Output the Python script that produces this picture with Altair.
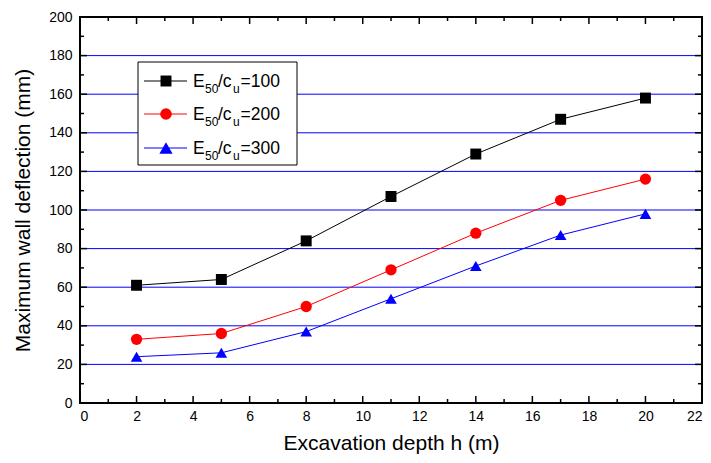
import altair as alt
import pandas as pd

# ---- data ----
depth = [2, 5, 8, 11, 14, 17, 20]
s100 = [61, 64, 84, 107, 129, 147, 158]
s200 = [33, 36, 50, 69, 88, 105, 116]
s300 = [24, 26, 37, 54, 71, 87, 98]
ratios = ["100", "200", "300"]
colors = ["#000000", "#ff0000", "#0000ff"]
shapes = ["square", "circle", "triangle-up"]
x_ticks = list(range(0, 23, 2))
x_minor = list(range(1, 22, 2))
y_ticks = list(range(0, 201, 20))
y_minor = list(range(10, 200, 20))
grid_vals = list(range(20, 181, 20))

# marker styling (not data)
MARKER_SIZES = [120, 135, 175]

W, H = 622, 386
FONT = "Liberation Sans"

rows = []
for r, vals in zip(ratios, [s100, s200, s300]):
    for d, v in zip(depth, vals):
        rows.append({"depth": d, "defl": v, "series": r})
df = pd.DataFrame(rows)

xs = alt.Scale(domain=[0, 22], nice=False, zero=False)
ys = alt.Scale(domain=[0, 200], nice=False, zero=False)
cs = alt.Scale(domain=ratios, range=colors)
ss = alt.Scale(domain=ratios, range=shapes)
zs = alt.Scale(domain=ratios, range=MARKER_SIZES)

x_axis = alt.Axis(values=x_ticks, ticks=False, domain=False, grid=False,
                  labelOverlap=False,
                  labelFontSize=14, labelFont=FONT, labelColor="black",
                  labelPadding=6, title="Excavation depth h (m)",
                  titleFont=FONT, titleFontSize=21, titleFontWeight="normal",
                  titleColor="black", titleX=W / 2, titleY=46,
                  titleBaseline="alphabetic", titleAlign="center")
y_axis = alt.Axis(values=y_ticks, ticks=False, domain=False, grid=False,
                  labelOverlap=False,
                  labelFontSize=14, labelFont=FONT, labelColor="black",
                  labelPadding=8, title="Maximum wall deflection (mm)",
                  titleFont=FONT, titleFontSize=21, titleFontWeight="normal",
                  titleColor="black", titleX=-51, titleY=H / 2,
                  titleAngle=270, titleBaseline="alphabetic", titleAlign="center")

def X(field):
    return alt.X(field, scale=xs, axis=x_axis)

def Y(field):
    return alt.Y(field, scale=ys, axis=y_axis)

# grid lines
grid = alt.Chart(pd.DataFrame({"g": grid_vals})).mark_rule(
    color="#0000ff", strokeWidth=1).encode(y=Y("g:Q"))

# inward ticks on all four sides
def xticks(vals, length):
    d = pd.DataFrame({"t": vals})
    bot = alt.Chart(d).mark_rule(color="black", strokeWidth=1.5).encode(
        x=X("t:Q"), y=alt.value(H), y2=alt.value(H - length))
    top = alt.Chart(d).mark_rule(color="black", strokeWidth=1.5).encode(
        x=X("t:Q"), y=alt.value(0), y2=alt.value(length))
    return [bot, top]

def yticks(vals, length):
    d = pd.DataFrame({"t": vals})
    left = alt.Chart(d).mark_rule(color="black", strokeWidth=1.5).encode(
        y=Y("t:Q"), x=alt.value(0), x2=alt.value(length))
    right = alt.Chart(d).mark_rule(color="black", strokeWidth=1.5).encode(
        y=Y("t:Q"), x=alt.value(W), x2=alt.value(W - length))
    return [left, right]

tick_layers = xticks(x_ticks, 7) + xticks(x_minor, 4) + yticks(y_ticks, 7) + yticks(y_minor, 4)

lines = alt.Chart(df).mark_line(strokeWidth=1).encode(
    x=X("depth:Q"), y=Y("defl:Q"),
    color=alt.Color("series:N", scale=cs, legend=None))
points = alt.Chart(df).mark_point(filled=True, opacity=1).encode(
    x=X("depth:Q"), y=Y("defl:Q"),
    color=alt.Color("series:N", scale=cs, legend=None),
    shape=alt.Shape("series:N", scale=ss, legend=None),
    size=alt.Size("series:N", scale=zs, legend=None))

one = pd.DataFrame({"a": [0]})
frame = alt.Chart(one).mark_rect(fill="white", fillOpacity=0, stroke="black",
                                 strokeWidth=2).encode(
    x=alt.value(0), x2=alt.value(W), y=alt.value(0), y2=alt.value(H))

# manual legend (with real subscripts)
legend_box = alt.Chart(one).mark_rect(fill="white", stroke="black", strokeWidth=1).encode(
    x=alt.value(58), x2=alt.value(217), y=alt.value(45), y2=alt.value(148))
legend_layers = []
row_y = [64, 97, 131]
for r, col, shp, msz, cy in zip(ratios, colors, shapes, MARKER_SIZES, row_y):
    legend_layers.append(alt.Chart(one).mark_rule(color=col, strokeWidth=1).encode(
        x=alt.value(64), x2=alt.value(107), y=alt.value(cy)))
    legend_layers.append(alt.Chart(one).mark_point(
        shape=shp, filled=True, size=msz, color=col, opacity=1).encode(
        x=alt.value(86), y=alt.value(cy)))
    bl = cy + 6
    pieces = [("E", 113, bl, 17.5), ("50", 125, bl + 6, 12), ("/c", 138, bl, 17.5),
              ("u", 153, bl + 6, 12), ("=" + r, 160.5, bl, 17.5)]
    for txt, px, py, fs in pieces:
        legend_layers.append(alt.Chart(one).mark_text(
            align="left", baseline="alphabetic", font=FONT, fontSize=fs,
            color="black").encode(
            x=alt.value(px), y=alt.value(py), text=alt.value(txt)))

chart = alt.layer(grid, legend_box, frame, *tick_layers, lines, points,
                  *legend_layers).properties(
    width=W, height=H,
    autosize=alt.AutoSizeParams(type="none"),
    padding={"left": 72, "top": 9, "right": 1, "bottom": 52},
).configure_view(stroke=None).configure(background="white")

chart.save("out.html", embed_options={"renderer": "svg", "actions": False})
